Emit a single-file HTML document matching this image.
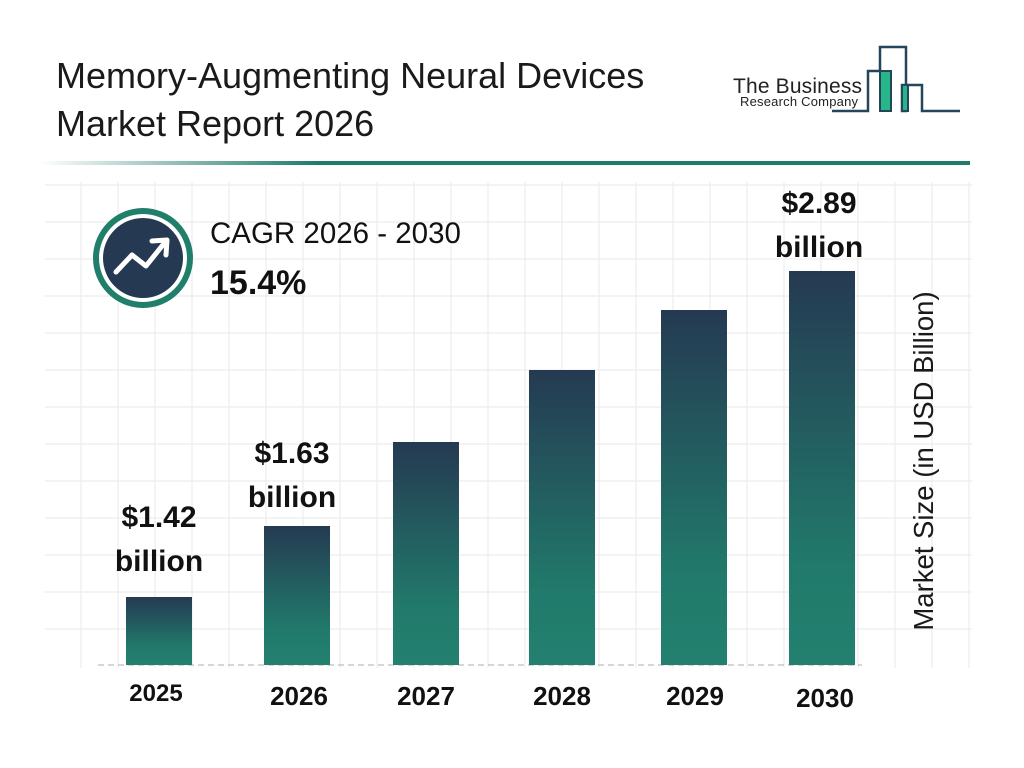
<!DOCTYPE html>
<html><head><meta charset="utf-8"><style>
body{margin:0;background:#fff;width:1024px;height:768px;overflow:hidden;position:relative;font-family:"Liberation Sans",sans-serif;}
.t{position:absolute;color:#111;}
.bar{position:absolute;width:66px;background:linear-gradient(#253a52,#217a6b 75%,#23806f);}
.lbl{position:absolute;font-weight:bold;font-size:30px;text-align:center;line-height:44px;color:#111;width:160px;}
.yr{position:absolute;font-weight:bold;font-size:26px;width:100px;text-align:center;top:681px;color:#111;}
</style></head><body>
<svg width="1024" height="768" style="position:absolute;left:0;top:0">
<defs><linearGradient id="ln" x1="0" x2="1"><stop offset="0" stop-color="#1f7a6a" stop-opacity="0"/><stop offset="0.3" stop-color="#1f7a6a"/><stop offset="1" stop-color="#1f7a6a"/></linearGradient></defs>
<rect x="40" y="161" width="930" height="4" fill="url(#ln)"/>
<g stroke="#ececec" stroke-width="1.2">
<line x1="81" y1="182" x2="81" y2="668"/><line x1="118" y1="182" x2="118" y2="668"/><line x1="155" y1="182" x2="155" y2="668"/><line x1="192" y1="182" x2="192" y2="668"/><line x1="229" y1="182" x2="229" y2="668"/><line x1="266" y1="182" x2="266" y2="668"/><line x1="303" y1="182" x2="303" y2="668"/><line x1="340" y1="182" x2="340" y2="668"/><line x1="377" y1="182" x2="377" y2="668"/><line x1="414" y1="182" x2="414" y2="668"/><line x1="451" y1="182" x2="451" y2="668"/><line x1="488" y1="182" x2="488" y2="668"/><line x1="525" y1="182" x2="525" y2="668"/><line x1="562" y1="182" x2="562" y2="668"/><line x1="599" y1="182" x2="599" y2="668"/><line x1="636" y1="182" x2="636" y2="668"/><line x1="673" y1="182" x2="673" y2="668"/><line x1="710" y1="182" x2="710" y2="668"/><line x1="747" y1="182" x2="747" y2="668"/><line x1="784" y1="182" x2="784" y2="668"/><line x1="821" y1="182" x2="821" y2="668"/><line x1="858" y1="182" x2="858" y2="668"/><line x1="895" y1="182" x2="895" y2="668"/><line x1="932" y1="182" x2="932" y2="668"/><line x1="969" y1="182" x2="969" y2="668"/>
<line x1="45" y1="185" x2="972" y2="185"/><line x1="45" y1="222" x2="972" y2="222"/><line x1="45" y1="259" x2="972" y2="259"/><line x1="45" y1="296" x2="972" y2="296"/><line x1="45" y1="333" x2="972" y2="333"/><line x1="45" y1="370" x2="972" y2="370"/><line x1="45" y1="407" x2="972" y2="407"/><line x1="45" y1="444" x2="972" y2="444"/><line x1="45" y1="481" x2="972" y2="481"/><line x1="45" y1="518" x2="972" y2="518"/><line x1="45" y1="555" x2="972" y2="555"/><line x1="45" y1="592" x2="972" y2="592"/><line x1="45" y1="629" x2="972" y2="629"/>
</g>
<line x1="98" y1="665" x2="862" y2="665" stroke="#c8c8c8" stroke-width="1.5" stroke-dasharray="6,4"/>
<g fill="none" stroke="#23465a" stroke-width="2.5">
<polyline points="832,111 868,111 868,71 880,71 880,47 906,47 906,111 902,111 902,85 922,85 922,111 960,111"/>
</g>
<rect x="880" y="71" width="11" height="40" fill="#27b58a" stroke="#23465a" stroke-width="2"/>
<rect x="902" y="85" width="6" height="26" fill="#27b58a" stroke="#23465a" stroke-width="2"/>
<text x="733" y="93" font-family="Liberation Sans" font-size="21" fill="#222" textLength="129">The Business</text>
<text x="740" y="106" font-family="Liberation Sans" font-size="13" fill="#222" textLength="118">Research Company</text>
<circle cx="143" cy="258" r="50" fill="#1f7f6b"/>
<circle cx="143" cy="258" r="44" fill="#fff"/>
<circle cx="143" cy="258" r="40" fill="#253a52"/>
<polyline points="116,272 132,255 146,266 166,241" fill="none" stroke="#fff" stroke-width="5" stroke-linecap="round" stroke-linejoin="round"/>
<polyline points="152,241 167,240 166,255" fill="none" stroke="#fff" stroke-width="5" stroke-linecap="round" stroke-linejoin="round"/>
</svg>
<div class="t" style="left:56px;top:52px;font-size:36px;line-height:48px;color:#1a1a1a">Memory-Augmenting Neural Devices<br>Market Report 2026</div>
<div class="t" style="left:210px;top:217px;font-size:29.5px">CAGR 2026 - 2030</div>
<div class="t" style="left:210px;top:264px;font-size:34px;font-weight:bold">15.4%</div>
<div class="bar" style="left:126px;top:597px;height:68px"></div>
<div class="bar" style="left:264px;top:526px;height:139px"></div>
<div class="bar" style="left:393px;top:442px;height:223px"></div>
<div class="bar" style="left:529px;top:370px;height:295px"></div>
<div class="bar" style="left:661px;top:310px;height:355px"></div>
<div class="bar" style="left:789px;top:271px;height:394px"></div>
<div class="lbl" style="left:79px;top:496px">$1.42<br>billion</div>
<div class="lbl" style="left:212px;top:432px">$1.63<br>billion</div>
<div class="lbl" style="left:739px;top:182px">$2.89<br>billion</div>
<div class="yr" style="left:106px;top:680px;font-size:24px">2025</div>
<div class="yr" style="left:249px">2026</div>
<div class="yr" style="left:376px">2027</div>
<div class="yr" style="left:512px">2028</div>
<div class="yr" style="left:645px">2029</div>
<div class="yr" style="left:775px;top:683px">2030</div>
<div class="t" style="left:924px;top:461px;font-size:27.5px;white-space:nowrap;transform:translate(-50%,-50%) rotate(-90deg);color:#1a1a1a">Market Size (in USD Billion)</div>
</body></html>
